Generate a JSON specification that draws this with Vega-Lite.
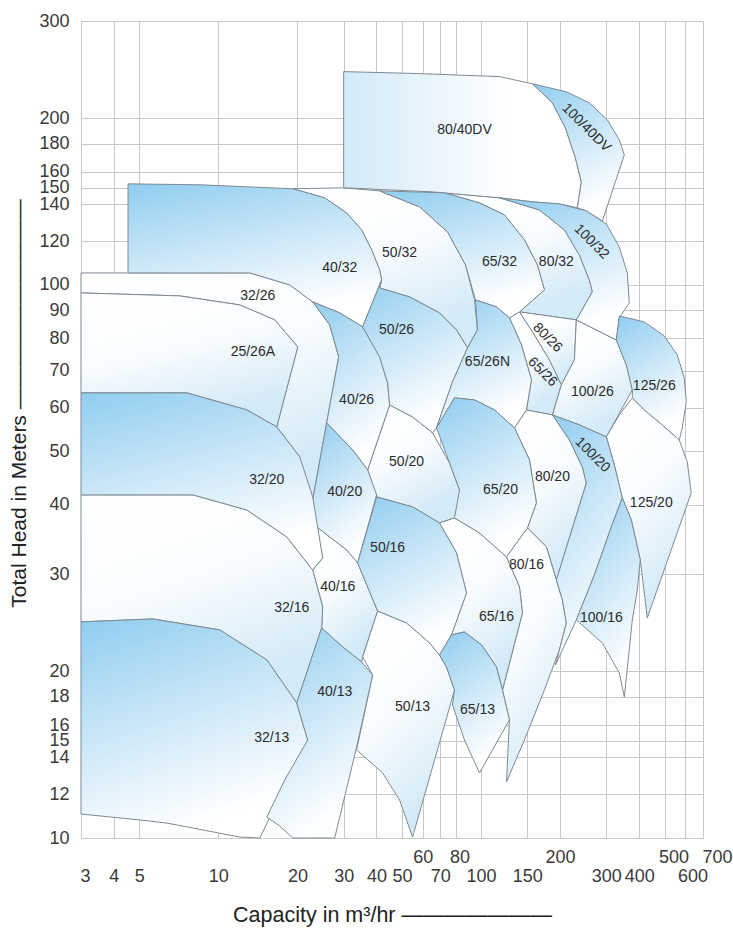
{
"$schema":"https://vega.github.io/schema/vega-lite/v6.json",
"width":622,"height":817,
"autosize":{"type":"none"},
"padding":{"left":81,"top":21,"right":30,"bottom":90},
"background":"#ffffff",
"config":{"view":{"stroke":null},"font":"Liberation Sans","axis":{"labelFont":"Liberation Sans","titleFont":"Liberation Sans"}},
"datasets":{
"shapes":[
{"p":"80/40DV","t":"P","i":0,"q":30,"h":243},{"p":"80/40DV","t":"P","i":1,"q":58.35,"h":241},{"p":"80/40DV","t":"P","i":2,"q":117.6,"h":238},{"p":"80/40DV","t":"P","i":3,"q":156.9,"h":231},{"p":"80/40DV","t":"P","i":4,"q":187,"h":213.4},{"p":"80/40DV","t":"P","i":5,"q":209.5,"h":192.3},{"p":"80/40DV","t":"P","i":6,"q":228.7,"h":169.7},{"p":"80/40DV","t":"P","i":7,"q":241,"h":153.6},{"p":"80/40DV","t":"P","i":8,"q":232.7,"h":137.8},{"p":"80/40DV","t":"P","i":9,"q":198.8,"h":140.1},{"p":"80/40DV","t":"P","i":10,"q":156.9,"h":141.3},{"p":"80/40DV","t":"P","i":11,"q":117.6,"h":143.7},{"p":"80/40DV","t":"P","i":12,"q":65.39,"h":147.3},{"p":"80/40DV","t":"P","i":13,"q":30,"h":149.8},{"p":"80/40DV","t":"P","i":14,"q":30,"h":243},
{"p":"100/40DV","t":"B","i":0,"q":156.9,"h":231},{"p":"100/40DV","t":"B","i":1,"q":211.3,"h":223.4},{"p":"100/40DV","t":"B","i":2,"q":258.5,"h":213.4},{"p":"100/40DV","t":"B","i":3,"q":302.6,"h":198.8},{"p":"100/40DV","t":"B","i":4,"q":336.1,"h":182.9},{"p":"100/40DV","t":"B","i":5,"q":351.2,"h":171.8},{"p":"100/40DV","t":"B","i":6,"q":289.7,"h":130.5},{"p":"100/40DV","t":"B","i":7,"q":251.8,"h":136.1},{"p":"100/40DV","t":"B","i":8,"q":232.7,"h":137.8},{"p":"100/40DV","t":"B","i":9,"q":241,"h":153.6},{"p":"100/40DV","t":"B","i":10,"q":228.7,"h":169.7},{"p":"100/40DV","t":"B","i":11,"q":209.5,"h":192.3},{"p":"100/40DV","t":"B","i":12,"q":187,"h":213.4},{"p":"100/40DV","t":"B","i":13,"q":156.9,"h":231},
{"p":"40/32","t":"B","i":0,"q":4.53,"h":152.3},{"p":"40/32","t":"B","i":1,"q":8.5,"h":151.7},{"p":"40/32","t":"B","i":2,"q":19.2,"h":149.2},{"p":"40/32","t":"B","i":3,"q":25.4,"h":143.7},{"p":"40/32","t":"B","i":4,"q":30.8,"h":134.9},{"p":"40/32","t":"B","i":5,"q":35.12,"h":125.7},{"p":"40/32","t":"B","i":6,"q":38.34,"h":115.7},{"p":"40/32","t":"B","i":7,"q":41.11,"h":106.4},{"p":"40/32","t":"B","i":8,"q":41.84,"h":102.1},{"p":"40/32","t":"B","i":9,"q":35.43,"h":83.97},{"p":"40/32","t":"B","i":10,"q":28.97,"h":89.0},{"p":"40/32","t":"B","i":11,"q":22.87,"h":93.17},{"p":"40/32","t":"B","i":12,"q":18.7,"h":100},{"p":"40/32","t":"B","i":13,"q":13.17,"h":105.1},{"p":"40/32","t":"B","i":14,"q":4.53,"h":105.1},{"p":"40/32","t":"B","i":15,"q":4.53,"h":152.3},
{"p":"50/32","t":"W","i":0,"q":19.2,"h":149.2},{"p":"50/32","t":"W","i":1,"q":30,"h":149.8},{"p":"50/32","t":"W","i":2,"q":41.11,"h":147.9},{"p":"50/32","t":"W","i":3,"q":58.35,"h":138.4},{"p":"50/32","t":"W","i":4,"q":74.55,"h":124.7},{"p":"50/32","t":"W","i":5,"q":87.3,"h":108.7},{"p":"50/32","t":"W","i":6,"q":94.45,"h":93.95},{"p":"50/32","t":"W","i":7,"q":96.96,"h":82.92},{"p":"50/32","t":"W","i":8,"q":88.83,"h":76.93},{"p":"50/32","t":"W","i":9,"q":80.67,"h":82.92},{"p":"50/32","t":"W","i":10,"q":69.51,"h":89.0},{"p":"50/32","t":"W","i":11,"q":53.47,"h":95.12},{"p":"50/32","t":"W","i":12,"q":41.11,"h":98.76},{"p":"50/32","t":"W","i":13,"q":41.84,"h":102.1},{"p":"50/32","t":"W","i":14,"q":41.11,"h":106.4},{"p":"50/32","t":"W","i":15,"q":38.34,"h":115.7},{"p":"50/32","t":"W","i":16,"q":35.12,"h":125.7},{"p":"50/32","t":"W","i":17,"q":30.8,"h":134.9},{"p":"50/32","t":"W","i":18,"q":25.4,"h":143.7},{"p":"50/32","t":"W","i":19,"q":19.2,"h":149.2},
{"p":"65/32","t":"B","i":0,"q":41.11,"h":147.9},{"p":"65/32","t":"B","i":1,"q":72.62,"h":146.7},{"p":"65/32","t":"B","i":2,"q":98.67,"h":140.7},{"p":"65/32","t":"B","i":3,"q":122.8,"h":133.8},{"p":"65/32","t":"B","i":4,"q":146.3,"h":120.6},{"p":"65/32","t":"B","i":5,"q":163.9,"h":108.7},{"p":"65/32","t":"B","i":6,"q":174.3,"h":97.95},{"p":"65/32","t":"B","i":7,"q":140.1,"h":89.37},{"p":"65/32","t":"B","i":8,"q":128.3,"h":87.17},{"p":"65/32","t":"B","i":9,"q":114.5,"h":91.25},{"p":"65/32","t":"B","i":10,"q":95.28,"h":93.95},{"p":"65/32","t":"B","i":11,"q":87.3,"h":108.7},{"p":"65/32","t":"B","i":12,"q":74.55,"h":124.7},{"p":"65/32","t":"B","i":13,"q":58.35,"h":138.4},{"p":"65/32","t":"B","i":14,"q":41.11,"h":147.9},
{"p":"80/32","t":"W","i":0,"q":72.62,"h":146.7},{"p":"80/32","t":"W","i":1,"q":117.6,"h":143.7},{"p":"80/32","t":"W","i":2,"q":166.8,"h":136.6},{"p":"80/32","t":"W","i":3,"q":207.7,"h":125.7},{"p":"80/32","t":"W","i":4,"q":236.8,"h":113.3},{"p":"80/32","t":"W","i":5,"q":258.5,"h":102.1},{"p":"80/32","t":"W","i":6,"q":265.4,"h":97.13},{"p":"80/32","t":"W","i":7,"q":230.7,"h":86.45},{"p":"80/32","t":"W","i":8,"q":140.1,"h":89.37},{"p":"80/32","t":"W","i":9,"q":174.3,"h":97.95},{"p":"80/32","t":"W","i":10,"q":163.9,"h":108.7},{"p":"80/32","t":"W","i":11,"q":146.3,"h":120.6},{"p":"80/32","t":"W","i":12,"q":122.8,"h":133.8},{"p":"80/32","t":"W","i":13,"q":98.67,"h":140.7},{"p":"80/32","t":"W","i":14,"q":72.62,"h":146.7},
{"p":"100/32","t":"B","i":0,"q":117.6,"h":143.7},{"p":"100/32","t":"B","i":1,"q":156.9,"h":141.3},{"p":"100/32","t":"B","i":2,"q":198.8,"h":140.1},{"p":"100/32","t":"B","i":3,"q":251.8,"h":136.1},{"p":"100/32","t":"B","i":4,"q":300,"h":128.9},{"p":"100/32","t":"B","i":5,"q":336.1,"h":117.1},{"p":"100/32","t":"B","i":6,"q":360.5,"h":105.1},{"p":"100/32","t":"B","i":7,"q":366.9,"h":92.79},{"p":"100/32","t":"B","i":8,"q":336.1,"h":87.17},{"p":"100/32","t":"B","i":9,"q":327.4,"h":79.52},{"p":"100/32","t":"B","i":10,"q":230.7,"h":86.45},{"p":"100/32","t":"B","i":11,"q":265.4,"h":97.13},{"p":"100/32","t":"B","i":12,"q":258.5,"h":102.1},{"p":"100/32","t":"B","i":13,"q":236.8,"h":113.3},{"p":"100/32","t":"B","i":14,"q":207.7,"h":125.7},{"p":"100/32","t":"B","i":15,"q":166.8,"h":136.6},{"p":"100/32","t":"B","i":16,"q":117.6,"h":143.7},
{"p":"32/26","t":"W","i":0,"q":3,"h":105.1},{"p":"32/26","t":"W","i":1,"q":4.53,"h":105.1},{"p":"32/26","t":"W","i":2,"q":13.17,"h":105.1},{"p":"32/26","t":"W","i":3,"q":18.7,"h":100},{"p":"32/26","t":"W","i":4,"q":22.87,"h":93.17},{"p":"32/26","t":"W","i":5,"q":26.54,"h":84.67},{"p":"32/26","t":"W","i":6,"q":28.72,"h":74.1},{"p":"32/26","t":"W","i":7,"q":25.85,"h":56.3},{"p":"32/26","t":"W","i":8,"q":22.87,"h":40.86},{"p":"32/26","t":"W","i":9,"q":21.7,"h":41.37},{"p":"32/26","t":"W","i":10,"q":20.41,"h":48.87},{"p":"32/26","t":"W","i":11,"q":16.68,"h":55.37},{"p":"32/26","t":"W","i":12,"q":20.06,"h":77.25},{"p":"32/26","t":"W","i":13,"q":16.39,"h":86.45},{"p":"32/26","t":"W","i":14,"q":12.07,"h":92.0},{"p":"32/26","t":"W","i":15,"q":7.14,"h":95.52},{"p":"32/26","t":"W","i":16,"q":3,"h":96.72},{"p":"32/26","t":"W","i":17,"q":3,"h":105.1},
{"p":"25/26A","t":"W","i":0,"q":3,"h":96.72},{"p":"25/26A","t":"W","i":1,"q":7.14,"h":95.52},{"p":"25/26A","t":"W","i":2,"q":12.07,"h":92.0},{"p":"25/26A","t":"W","i":3,"q":16.39,"h":86.45},{"p":"25/26A","t":"W","i":4,"q":20.06,"h":77.25},{"p":"25/26A","t":"W","i":5,"q":16.68,"h":55.37},{"p":"25/26A","t":"W","i":6,"q":12.83,"h":59.43},{"p":"25/26A","t":"W","i":7,"q":7.59,"h":63.79},{"p":"25/26A","t":"W","i":8,"q":3,"h":63.79},{"p":"25/26A","t":"W","i":9,"q":3,"h":96.72},
{"p":"40/26","t":"B","i":0,"q":22.87,"h":93.17},{"p":"40/26","t":"B","i":1,"q":28.97,"h":89.0},{"p":"40/26","t":"B","i":2,"q":35.43,"h":83.97},{"p":"40/26","t":"B","i":3,"q":41.11,"h":74.1},{"p":"40/26","t":"B","i":4,"q":44.1,"h":66.51},{"p":"40/26","t":"B","i":5,"q":44.87,"h":60.67},{"p":"40/26","t":"B","i":6,"q":37.02,"h":46.3},{"p":"40/26","t":"B","i":7,"q":32.45,"h":50.3},{"p":"40/26","t":"B","i":8,"q":25.85,"h":56.3},{"p":"40/26","t":"B","i":9,"q":28.72,"h":74.1},{"p":"40/26","t":"B","i":10,"q":26.54,"h":84.67},{"p":"40/26","t":"B","i":11,"q":22.87,"h":93.17},
{"p":"50/26","t":"B","i":0,"q":41.84,"h":102.1},{"p":"50/26","t":"B","i":1,"q":41.11,"h":98.76},{"p":"50/26","t":"B","i":2,"q":53.47,"h":95.12},{"p":"50/26","t":"B","i":3,"q":69.51,"h":89.0},{"p":"50/26","t":"B","i":4,"q":80.67,"h":82.92},{"p":"50/26","t":"B","i":5,"q":88.83,"h":76.93},{"p":"50/26","t":"B","i":6,"q":77.88,"h":66.78},{"p":"50/26","t":"B","i":7,"q":67.71,"h":55.14},{"p":"50/26","t":"B","i":8,"q":65.39,"h":54.01},{"p":"50/26","t":"B","i":9,"q":54.89,"h":57.72},{"p":"50/26","t":"B","i":10,"q":44.87,"h":60.67},{"p":"50/26","t":"B","i":11,"q":44.1,"h":66.51},{"p":"50/26","t":"B","i":12,"q":41.11,"h":74.1},{"p":"50/26","t":"B","i":13,"q":35.43,"h":83.97},{"p":"50/26","t":"B","i":14,"q":41.84,"h":102.1},
{"p":"65/26N","t":"B","i":0,"q":95.28,"h":93.95},{"p":"65/26N","t":"B","i":1,"q":114.5,"h":91.25},{"p":"65/26N","t":"B","i":2,"q":128.3,"h":87.17},{"p":"65/26N","t":"B","i":3,"q":142.6,"h":77.89},{"p":"65/26N","t":"B","i":4,"q":155.6,"h":67.34},{"p":"65/26N","t":"B","i":5,"q":148.9,"h":59.43},{"p":"65/26N","t":"B","i":6,"q":134.1,"h":55.14},{"p":"65/26N","t":"B","i":7,"q":112.5,"h":59.43},{"p":"65/26N","t":"B","i":8,"q":94.45,"h":61.94},{"p":"65/26N","t":"B","i":9,"q":79.27,"h":62.48},{"p":"65/26N","t":"B","i":10,"q":67.71,"h":55.14},{"p":"65/26N","t":"B","i":11,"q":77.88,"h":66.78},{"p":"65/26N","t":"B","i":12,"q":88.83,"h":76.93},{"p":"65/26N","t":"B","i":13,"q":96.96,"h":82.92},{"p":"65/26N","t":"B","i":14,"q":95.28,"h":93.95},
{"p":"65/26","t":"W","i":0,"q":128.3,"h":87.17},{"p":"65/26","t":"W","i":1,"q":140.1,"h":89.37},{"p":"65/26","t":"W","i":2,"q":159.7,"h":81.21},{"p":"65/26","t":"W","i":3,"q":182.1,"h":73.19},{"p":"65/26","t":"W","i":4,"q":202.3,"h":65.98},{"p":"65/26","t":"W","i":5,"q":187,"h":58.2},{"p":"65/26","t":"W","i":6,"q":148.9,"h":59.43},{"p":"65/26","t":"W","i":7,"q":155.6,"h":67.34},{"p":"65/26","t":"W","i":8,"q":142.6,"h":77.89},{"p":"65/26","t":"W","i":9,"q":128.3,"h":87.17},
{"p":"80/26","t":"W","i":0,"q":140.1,"h":89.37},{"p":"80/26","t":"W","i":1,"q":230.7,"h":86.45},{"p":"80/26","t":"W","i":2,"q":226.7,"h":73.19},{"p":"80/26","t":"W","i":3,"q":202.3,"h":65.98},{"p":"80/26","t":"W","i":4,"q":182.1,"h":73.19},{"p":"80/26","t":"W","i":5,"q":159.7,"h":81.21},{"p":"80/26","t":"W","i":6,"q":140.1,"h":89.37},
{"p":"100/26","t":"W","i":0,"q":230.7,"h":86.45},{"p":"100/26","t":"W","i":1,"q":327.4,"h":79.52},{"p":"100/26","t":"W","i":2,"q":357.4,"h":71.68},{"p":"100/26","t":"W","i":3,"q":376.7,"h":64.59},{"p":"100/26","t":"W","i":4,"q":300,"h":53.11},{"p":"100/26","t":"W","i":5,"q":236.8,"h":55.83},{"p":"100/26","t":"W","i":6,"q":187,"h":58.2},{"p":"100/26","t":"W","i":7,"q":202.3,"h":65.98},{"p":"100/26","t":"W","i":8,"q":226.7,"h":73.19},{"p":"100/26","t":"W","i":9,"q":230.7,"h":86.45},
{"p":"125/26","t":"B","i":0,"q":336.1,"h":87.88},{"p":"125/26","t":"B","i":1,"q":418.4,"h":85.73},{"p":"125/26","t":"B","i":2,"q":498.4,"h":80.88},{"p":"125/26","t":"B","i":3,"q":558.6,"h":74.71},{"p":"125/26","t":"B","i":4,"q":594,"h":67.9},{"p":"125/26","t":"B","i":5,"q":604.5,"h":61.43},{"p":"125/26","t":"B","i":6,"q":583.6,"h":55.14},{"p":"125/26","t":"B","i":7,"q":568.5,"h":52.45},{"p":"125/26","t":"B","i":8,"q":489.8,"h":55.83},{"p":"125/26","t":"B","i":9,"q":418.4,"h":59.43},{"p":"125/26","t":"B","i":10,"q":376.7,"h":62.48},{"p":"125/26","t":"B","i":11,"q":376.7,"h":64.59},{"p":"125/26","t":"B","i":12,"q":357.4,"h":71.68},{"p":"125/26","t":"B","i":13,"q":327.4,"h":79.52},{"p":"125/26","t":"B","i":14,"q":336.1,"h":87.88},
{"p":"125/20","t":"W","i":0,"q":300,"h":53.11},{"p":"125/20","t":"W","i":1,"q":336.1,"h":58.2},{"p":"125/20","t":"W","i":2,"q":376.7,"h":62.48},{"p":"125/20","t":"W","i":3,"q":418.4,"h":59.43},{"p":"125/20","t":"W","i":4,"q":489.8,"h":55.83},{"p":"125/20","t":"W","i":5,"q":568.5,"h":52.45},{"p":"125/20","t":"W","i":6,"q":609.8,"h":47.86},{"p":"125/20","t":"W","i":7,"q":631.4,"h":42.07},{"p":"125/20","t":"W","i":8,"q":429.5,"h":25.0},{"p":"125/20","t":"W","i":9,"q":404,"h":31.83},{"p":"125/20","t":"W","i":10,"q":373.4,"h":37.58},{"p":"125/20","t":"W","i":11,"q":345.1,"h":41.2},{"p":"125/20","t":"W","i":12,"q":321.7,"h":47.27},{"p":"125/20","t":"W","i":13,"q":300,"h":53.11},
{"p":"100/20","t":"B","i":0,"q":187,"h":58.2},{"p":"100/20","t":"B","i":1,"q":236.8,"h":55.83},{"p":"100/20","t":"B","i":2,"q":300,"h":53.11},{"p":"100/20","t":"B","i":3,"q":321.7,"h":47.27},{"p":"100/20","t":"B","i":4,"q":345.1,"h":41.2},{"p":"100/20","t":"B","i":5,"q":313.4,"h":36.51},{"p":"100/20","t":"B","i":6,"q":270.1,"h":29.89},{"p":"100/20","t":"B","i":7,"q":230.7,"h":24.79},{"p":"100/20","t":"B","i":8,"q":192,"h":20.55},{"p":"100/20","t":"B","i":9,"q":198.8,"h":21.88},{"p":"100/20","t":"B","i":10,"q":211.3,"h":24.48},{"p":"100/20","t":"B","i":11,"q":204.1,"h":26.94},{"p":"100/20","t":"B","i":12,"q":193.6,"h":29.27},{"p":"100/20","t":"B","i":13,"q":251.8,"h":43.85},{"p":"100/20","t":"B","i":14,"q":243.1,"h":46.88},{"p":"100/20","t":"B","i":15,"q":217,"h":52.45},{"p":"100/20","t":"B","i":16,"q":187,"h":58.2},
{"p":"80/20","t":"W","i":0,"q":148.9,"h":59.43},{"p":"80/20","t":"W","i":1,"q":187,"h":58.2},{"p":"80/20","t":"W","i":2,"q":217,"h":52.45},{"p":"80/20","t":"W","i":3,"q":243.1,"h":46.88},{"p":"80/20","t":"W","i":4,"q":251.8,"h":43.85},{"p":"80/20","t":"W","i":5,"q":193.6,"h":29.27},{"p":"80/20","t":"W","i":6,"q":177.4,"h":33.6},{"p":"80/20","t":"W","i":7,"q":152.9,"h":36.06},{"p":"80/20","t":"W","i":8,"q":150.2,"h":36.36},{"p":"80/20","t":"W","i":9,"q":162.5,"h":40.35},{"p":"80/20","t":"W","i":10,"q":152.9,"h":48.26},{"p":"80/20","t":"W","i":11,"q":134.1,"h":55.14},{"p":"80/20","t":"W","i":12,"q":148.9,"h":59.43},
{"p":"80/16","t":"W","i":0,"q":125,"h":32.23},{"p":"80/16","t":"W","i":1,"q":150.2,"h":36.36},{"p":"80/16","t":"W","i":2,"q":177.4,"h":33.6},{"p":"80/16","t":"W","i":3,"q":193.6,"h":29.27},{"p":"80/16","t":"W","i":4,"q":204.1,"h":26.94},{"p":"80/16","t":"W","i":5,"q":211.3,"h":24.48},{"p":"80/16","t":"W","i":6,"q":198.8,"h":21.88},{"p":"80/16","t":"W","i":7,"q":174.3,"h":18.52},{"p":"80/16","t":"W","i":8,"q":146.3,"h":15.04},{"p":"80/16","t":"W","i":9,"q":125,"h":12.63},{"p":"80/16","t":"W","i":10,"q":128.3,"h":16.35},{"p":"80/16","t":"W","i":11,"q":120.7,"h":18.52},{"p":"80/16","t":"W","i":12,"q":143.8,"h":25.52},{"p":"80/16","t":"W","i":13,"q":140.1,"h":28.43},{"p":"80/16","t":"W","i":14,"q":125,"h":32.23},
{"p":"100/16","t":"B","i":0,"q":313.4,"h":36.51},{"p":"100/16","t":"B","i":1,"q":345.1,"h":41.2},{"p":"100/16","t":"B","i":2,"q":373.4,"h":37.58},{"p":"100/16","t":"B","i":3,"q":404,"h":31.83},{"p":"100/16","t":"B","i":4,"q":393.6,"h":28.08},{"p":"100/16","t":"B","i":5,"q":376.7,"h":24.79},{"p":"100/16","t":"B","i":6,"q":351.2,"h":17.99},{"p":"100/16","t":"B","i":7,"q":336.1,"h":19.88},{"p":"100/16","t":"B","i":8,"q":289.7,"h":22.52},{"p":"100/16","t":"B","i":9,"q":230.7,"h":24.79},{"p":"100/16","t":"B","i":10,"q":270.1,"h":29.89},{"p":"100/16","t":"B","i":11,"q":313.4,"h":36.51},
{"p":"65/20","t":"B","i":0,"q":79.27,"h":62.48},{"p":"65/20","t":"B","i":1,"q":94.45,"h":61.94},{"p":"65/20","t":"B","i":2,"q":112.5,"h":59.43},{"p":"65/20","t":"B","i":3,"q":134.1,"h":55.14},{"p":"65/20","t":"B","i":4,"q":152.9,"h":48.26},{"p":"65/20","t":"B","i":5,"q":162.5,"h":40.35},{"p":"65/20","t":"B","i":6,"q":150.2,"h":36.36},{"p":"65/20","t":"B","i":7,"q":125,"h":32.23},{"p":"65/20","t":"B","i":8,"q":98.67,"h":35.61},{"p":"65/20","t":"B","i":9,"q":79.27,"h":37.9},{"p":"65/20","t":"B","i":10,"q":82.81,"h":42.6},{"p":"65/20","t":"B","i":11,"q":75.86,"h":47.66},{"p":"65/20","t":"B","i":12,"q":67.71,"h":55.14},{"p":"65/20","t":"B","i":13,"q":79.27,"h":62.48},
{"p":"50/20","t":"W","i":0,"q":44.87,"h":60.67},{"p":"50/20","t":"W","i":1,"q":54.89,"h":57.72},{"p":"50/20","t":"W","i":2,"q":65.39,"h":54.01},{"p":"50/20","t":"W","i":3,"q":75.86,"h":47.66},{"p":"50/20","t":"W","i":4,"q":82.81,"h":42.6},{"p":"50/20","t":"W","i":5,"q":82.81,"h":38.7},{"p":"50/20","t":"W","i":6,"q":79.27,"h":37.9},{"p":"50/20","t":"W","i":7,"q":69.51,"h":37.12},{"p":"50/20","t":"W","i":8,"q":54.89,"h":39.68},{"p":"50/20","t":"W","i":9,"q":40.05,"h":41.37},{"p":"50/20","t":"W","i":10,"q":37.02,"h":46.3},{"p":"50/20","t":"W","i":11,"q":44.87,"h":60.67},
{"p":"40/20","t":"B","i":0,"q":25.85,"h":56.3},{"p":"40/20","t":"B","i":1,"q":32.45,"h":50.3},{"p":"40/20","t":"B","i":2,"q":37.02,"h":46.3},{"p":"40/20","t":"B","i":3,"q":40.05,"h":41.72},{"p":"40/20","t":"B","i":4,"q":33.91,"h":31.43},{"p":"40/20","t":"B","i":5,"q":30.8,"h":33.18},{"p":"40/20","t":"B","i":6,"q":23.68,"h":36.51},{"p":"40/20","t":"B","i":7,"q":22.87,"h":40.86},{"p":"40/20","t":"B","i":8,"q":25.85,"h":56.3},
{"p":"50/16","t":"B","i":0,"q":40.05,"h":41.37},{"p":"50/16","t":"B","i":1,"q":54.89,"h":39.68},{"p":"50/16","t":"B","i":2,"q":69.51,"h":37.12},{"p":"50/16","t":"B","i":3,"q":80.67,"h":32.77},{"p":"50/16","t":"B","i":4,"q":88.06,"h":27.73},{"p":"50/16","t":"B","i":5,"q":77.2,"h":23.29},{"p":"50/16","t":"B","i":6,"q":69.51,"h":21.42},{"p":"50/16","t":"B","i":7,"q":63.7,"h":22.52},{"p":"50/16","t":"B","i":8,"q":52.07,"h":24.48},{"p":"50/16","t":"B","i":9,"q":40.41,"h":25.73},{"p":"50/16","t":"B","i":10,"q":33.91,"h":31.43},{"p":"50/16","t":"B","i":11,"q":40.05,"h":41.37},
{"p":"40/16","t":"W","i":0,"q":23.68,"h":36.51},{"p":"40/16","t":"W","i":1,"q":30.8,"h":33.18},{"p":"40/16","t":"W","i":2,"q":33.91,"h":31.43},{"p":"40/16","t":"W","i":3,"q":40.41,"h":25.73},{"p":"40/16","t":"W","i":4,"q":35.43,"h":21.25},{"p":"40/16","t":"W","i":5,"q":35.12,"h":20.81},{"p":"40/16","t":"W","i":6,"q":29.74,"h":22.15},{"p":"40/16","t":"W","i":7,"q":24.74,"h":23.98},{"p":"40/16","t":"W","i":8,"q":24.96,"h":26.16},{"p":"40/16","t":"W","i":9,"q":22.87,"h":30.52},{"p":"40/16","t":"W","i":10,"q":24.96,"h":32.09},{"p":"40/16","t":"W","i":11,"q":23.68,"h":36.51},
{"p":"65/16","t":"W","i":0,"q":79.27,"h":37.9},{"p":"65/16","t":"W","i":1,"q":98.67,"h":35.61},{"p":"65/16","t":"W","i":2,"q":125,"h":32.23},{"p":"65/16","t":"W","i":3,"q":140.1,"h":28.43},{"p":"65/16","t":"W","i":4,"q":143.8,"h":25.52},{"p":"65/16","t":"W","i":5,"q":120.7,"h":18.52},{"p":"65/16","t":"W","i":6,"q":114.5,"h":20.38},{"p":"65/16","t":"W","i":7,"q":100.4,"h":22.34},{"p":"65/16","t":"W","i":8,"q":86.5,"h":23.58},{"p":"65/16","t":"W","i":9,"q":77.2,"h":23.29},{"p":"65/16","t":"W","i":10,"q":88.06,"h":27.73},{"p":"65/16","t":"W","i":11,"q":80.67,"h":32.77},{"p":"65/16","t":"W","i":12,"q":69.51,"h":37.12},{"p":"65/16","t":"W","i":13,"q":79.27,"h":37.9},
{"p":"32/20","t":"B","i":0,"q":3,"h":63.79},{"p":"32/20","t":"B","i":1,"q":7.59,"h":63.79},{"p":"32/20","t":"B","i":2,"q":12.83,"h":59.43},{"p":"32/20","t":"B","i":3,"q":16.68,"h":55.37},{"p":"32/20","t":"B","i":4,"q":20.41,"h":48.87},{"p":"32/20","t":"B","i":5,"q":22.87,"h":41.37},{"p":"32/20","t":"B","i":6,"q":24.96,"h":32.09},{"p":"32/20","t":"B","i":7,"q":22.87,"h":30.52},{"p":"32/20","t":"B","i":8,"q":18.21,"h":35.02},{"p":"32/20","t":"B","i":9,"q":12.83,"h":39.19},{"p":"32/20","t":"B","i":10,"q":8.0,"h":41.72},{"p":"32/20","t":"B","i":11,"q":3,"h":41.72},{"p":"32/20","t":"B","i":12,"q":3,"h":63.79},
{"p":"32/16","t":"W","i":0,"q":3,"h":41.72},{"p":"32/16","t":"W","i":1,"q":8.0,"h":41.72},{"p":"32/16","t":"W","i":2,"q":12.83,"h":39.19},{"p":"32/16","t":"W","i":3,"q":18.21,"h":35.02},{"p":"32/16","t":"W","i":4,"q":22.87,"h":30.52},{"p":"32/16","t":"W","i":5,"q":24.96,"h":26.16},{"p":"32/16","t":"W","i":6,"q":24.74,"h":23.98},{"p":"32/16","t":"W","i":7,"q":19.88,"h":17.54},{"p":"32/16","t":"W","i":8,"q":15.29,"h":20.99},{"p":"32/16","t":"W","i":9,"q":10.13,"h":23.78},{"p":"32/16","t":"W","i":10,"q":5.63,"h":24.89},{"p":"32/16","t":"W","i":11,"q":3,"h":24.59},{"p":"32/16","t":"W","i":12,"q":3,"h":41.72},
{"p":"32/13","t":"B","i":0,"q":3,"h":24.59},{"p":"32/13","t":"B","i":1,"q":5.63,"h":24.89},{"p":"32/13","t":"B","i":2,"q":10.13,"h":23.78},{"p":"32/13","t":"B","i":3,"q":15.29,"h":20.99},{"p":"32/13","t":"B","i":4,"q":19.88,"h":17.54},{"p":"32/13","t":"B","i":5,"q":21.89,"h":15.04},{"p":"32/13","t":"B","i":6,"q":14.38,"h":10},{"p":"32/13","t":"B","i":7,"q":12.07,"h":10.04},{"p":"32/13","t":"B","i":8,"q":6.37,"h":10.64},{"p":"32/13","t":"B","i":9,"q":5.03,"h":10.78},{"p":"32/13","t":"B","i":10,"q":3,"h":11.05},{"p":"32/13","t":"B","i":11,"q":3,"h":24.59},
{"p":"40/13","t":"B","i":0,"q":24.74,"h":23.98},{"p":"40/13","t":"B","i":1,"q":29.74,"h":22.15},{"p":"40/13","t":"B","i":2,"q":35.12,"h":20.81},{"p":"40/13","t":"B","i":3,"q":38.67,"h":19.71},{"p":"40/13","t":"B","i":4,"q":33.61,"h":14.61},{"p":"40/13","t":"B","i":5,"q":27.73,"h":10},{"p":"40/13","t":"B","i":6,"q":19.2,"h":10},{"p":"40/13","t":"B","i":7,"q":17.13,"h":10.51},{"p":"40/13","t":"B","i":8,"q":15.29,"h":10.91},{"p":"40/13","t":"B","i":9,"q":17.89,"h":12.73},{"p":"40/13","t":"B","i":10,"q":21.89,"h":15.04},{"p":"40/13","t":"B","i":11,"q":19.88,"h":17.54},{"p":"40/13","t":"B","i":12,"q":24.74,"h":23.98},
{"p":"50/13","t":"W","i":0,"q":40.41,"h":25.73},{"p":"50/13","t":"W","i":1,"q":52.07,"h":24.48},{"p":"50/13","t":"W","i":2,"q":63.7,"h":22.52},{"p":"50/13","t":"W","i":3,"q":69.51,"h":21.42},{"p":"50/13","t":"W","i":4,"q":73.9,"h":20.38},{"p":"50/13","t":"W","i":5,"q":79.27,"h":18.52},{"p":"50/13","t":"W","i":6,"q":54.89,"h":10.04},{"p":"50/13","t":"W","i":7,"q":48.98,"h":11.71},{"p":"50/13","t":"W","i":8,"q":42.21,"h":13.11},{"p":"50/13","t":"W","i":9,"q":33.61,"h":14.43},{"p":"50/13","t":"W","i":10,"q":38.67,"h":19.71},{"p":"50/13","t":"W","i":11,"q":35.43,"h":21.25},{"p":"50/13","t":"W","i":12,"q":40.41,"h":25.73},
{"p":"65/13","t":"B","i":0,"q":77.2,"h":23.29},{"p":"65/13","t":"B","i":1,"q":86.5,"h":23.58},{"p":"65/13","t":"B","i":2,"q":100.4,"h":22.34},{"p":"65/13","t":"B","i":3,"q":114.5,"h":20.38},{"p":"65/13","t":"B","i":4,"q":120.7,"h":18.52},{"p":"65/13","t":"B","i":5,"q":128.3,"h":16.35},{"p":"65/13","t":"B","i":6,"q":98.67,"h":13.11},{"p":"65/13","t":"B","i":7,"q":86.5,"h":15.04},{"p":"65/13","t":"B","i":8,"q":77.88,"h":17.4},{"p":"65/13","t":"B","i":9,"q":79.27,"h":18.52},{"p":"65/13","t":"B","i":10,"q":73.9,"h":20.38},{"p":"65/13","t":"B","i":11,"q":69.51,"h":21.42},{"p":"65/13","t":"B","i":12,"q":77.2,"h":23.29}
],
"labels":[
{"label":"80/40DV","q":86.5,"h":190.7},{"label":"40/32","q":28.97,"h":107.3},{"label":"50/32","q":48.98,"h":114.3},{"label":"65/32","q":117.6,"h":110.1},{"label":"80/32","q":193.6,"h":110.1},
{"label":"32/26","q":14.13,"h":95.52},{"label":"25/26A","q":13.53,"h":75.66},{"label":"40/26","q":33.61,"h":61.94},{"label":"50/26","q":47.71,"h":82.92},{"label":"65/26N","q":105.8,"h":72.58},{"label":"100/26","q":265.4,"h":64.06},{"label":"125/26","q":456.6,"h":65.69},
{"label":"32/20","q":15.29,"h":44.41},{"label":"40/20","q":30.26,"h":42.24},{"label":"50/20","q":52.07,"h":47.86},{"label":"65/20","q":118.6,"h":42.6},{"label":"80/20","q":187,"h":44.96},{"label":"125/20","q":444.8,"h":40.35},
{"label":"32/16","q":19.03,"h":26.06},{"label":"40/16","q":28.47,"h":28.43},{"label":"50/16","q":44.1,"h":33.46},{"label":"65/16","q":114.5,"h":25.09},{"label":"80/16","q":148.9,"h":31.17},{"label":"100/16","q":287.1,"h":25.0},
{"label":"32/13","q":15.97,"h":15.16},{"label":"40/13","q":27.73,"h":18.37},{"label":"50/13","q":54.89,"h":17.25},{"label":"65/13","q":96.96,"h":17.04}
],
"slanted":[
{"label":"100/40DV","q":251.8,"h":192.3},{"label":"100/32","q":263.1,"h":119.6},{"label":"80/26","q":178.9,"h":80.2},{"label":"65/26","q":171.3,"h":69.6},{"label":"100/20","q":265.4,"h":49.27}
]
},
"encoding":{
"x":{"field":"q","type":"quantitative","scale":{"type":"log","domain":[3,700],"nice":false},
"axis":{"values":[3,4,5,10,20,30,40,50,60,70,80,100,150,200,300,400,500,600,700],"grid":true,"gridColor":"#c8c8c8","gridWidth":1,"domain":false,"ticks":false,"labelPadding":10,"labelFontSize":18,"labelColor":"#3a3a3a","labelOverlap":false,"labelFlush":false,"labelBound":false,"labelLineHeight":19,"labelBaseline":"top",
"labelOffset":{"condition":[{"test":"datum.value == 700","value":14},{"test":"datum.value == 500","value":9},{"test":"datum.value == 600","value":7},{"test":"datum.value == 3","value":4},{"test":"datum.value == 80","value":4}],"value":0},
"labelExpr":"indexof([60,80,200,500,700], datum.value) >= 0 ? format(datum.value, 'd') : [' ', format(datum.value, 'd')]","title":"Capacity in m³/hr  ———————","titleFontSize":21.5,"titleFontWeight":"normal","titleColor":"#222222","titleBaseline":"alphabetic","titleY":83}},
"y":{"field":"h","type":"quantitative","scale":{"type":"log","domain":[10,300],"nice":false},
"axis":{"values":[10,12,14,15,16,18,20,30,40,50,60,70,80,90,100,120,140,150,160,180,200,300],"grid":true,"gridColor":"#c8c8c8","gridWidth":1,"domain":false,"ticks":false,"labelPadding":12,"labelFontSize":18,"labelColor":"#3a3a3a","labelOverlap":false,"labelFlush":false,"labelBound":false,"labelExpr":"format(datum.value, 'd')","title":"Total Head in Meters ——————————","titleFontSize":21,"titleFontWeight":"normal","titleColor":"#222222","titleBaseline":"alphabetic","titleX":-56,"titleY":382,"titleAngle":270}}
},
"layer":[
{"data":{"name":"shapes"},"transform":[{"filter":"datum.t == 'W'"}],
"mark":{"type":"line","interpolate":"linear","stroke":"#7d8a93","strokeWidth":1,"strokeJoin":"round",
"fill":{"gradient":"linear","x1":0,"y1":0,"x2":0.4,"y2":1,"stops":[{"offset":0,"color":"#ffffff"},{"offset":0.5,"color":"#f9fcfe"},{"offset":1,"color":"#d3eaf7"}]}},
"encoding":{"detail":{"field":"p"},"order":{"field":"i","type":"quantitative"}}},
{"data":{"name":"shapes"},"transform":[{"filter":"datum.t == 'P'"}],
"mark":{"type":"line","interpolate":"linear","stroke":"#7d8a93","strokeWidth":1,"strokeJoin":"round",
"fill":{"gradient":"linear","x1":0,"y1":0,"x2":1,"y2":0,"stops":[{"offset":0,"color":"#d2eaf8"},{"offset":0.7,"color":"#ffffff"},{"offset":1,"color":"#ffffff"}]}},
"encoding":{"detail":{"field":"p"},"order":{"field":"i","type":"quantitative"}}},
{"data":{"name":"shapes"},"transform":[{"filter":"datum.t == 'B'"}],
"mark":{"type":"line","interpolate":"linear","stroke":"#7d8a93","strokeWidth":1,"strokeJoin":"round",
"fill":{"gradient":"linear","x1":0,"y1":0,"x2":0.35,"y2":1,"stops":[{"offset":0,"color":"#90cdf0"},{"offset":0.55,"color":"#cfe9f8"},{"offset":1,"color":"#ffffff"}]}},
"encoding":{"detail":{"field":"p"},"order":{"field":"i","type":"quantitative"}}},
{"data":{"name":"labels"},"mark":{"type":"text","fontSize":14,"font":"Liberation Sans","color":"#2b2b2b","align":"center","baseline":"middle"},
"encoding":{"text":{"field":"label"}}},
{"data":{"name":"slanted"},"mark":{"type":"text","fontSize":14,"font":"Liberation Sans","color":"#2b2b2b","align":"center","baseline":"middle","angle":45},
"encoding":{"text":{"field":"label"}}}
]
}
